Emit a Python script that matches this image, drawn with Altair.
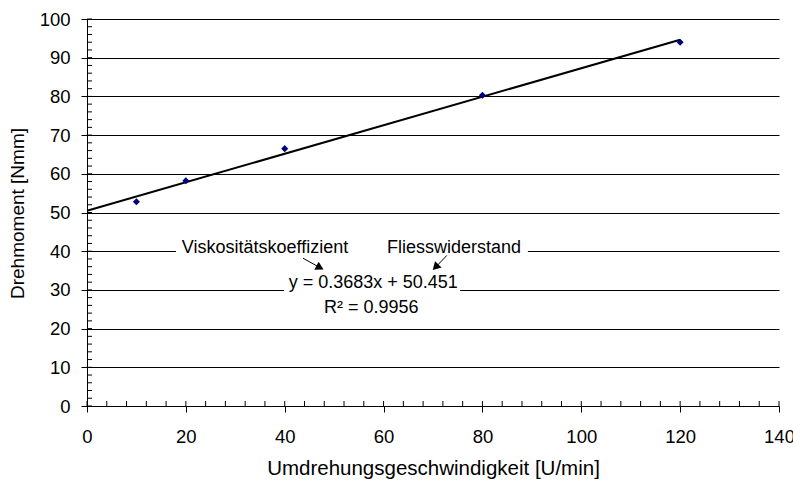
import altair as alt
import pandas as pd

FONT = "Liberation Sans, Arial, sans-serif"

# Measured torque at each rotational speed
speed = [10, 20, 40, 80, 120]
torque = [52.8, 58.2, 66.5, 80.3, 94.0]

# Linear trend: torque = slope * speed + intercept
slope = 0.3683
intercept = 50.451
r_squared = 0.9956
trend_x = [0, 120]

# Axis tick values
x_ticks = [0, 20, 40, 60, 80, 100, 120, 140]
y_ticks = [0, 10, 20, 30, 40, 50, 60, 70, 80, 90, 100]
x_minor = list(range(0, 141, 4))
y_minor = list(range(0, 101, 2))

# Annotation texts and their anchors (data units)
annot_text = [
    "Viskositätskoeffizient",
    "Fliesswiderstand",
    f"y = {slope}x + {intercept}",
    f"R² = {r_squared}",
]
annot_x = [36.0, 74.25, 57.9, 57.5]
annot_y = [39.66, 39.66, 30.49, 24.16]

# White text-box backgrounds (data units)
box_x = [18.0, 39.85]
box_x2 = [89.2, 75.5]
box_y = [37.9, 22.7]
box_y2 = [42.9, 35.7]

# Arrows from the labels to the coefficients
arrow_x = [43.7, 72.8]
arrow_y = [38.2, 38.9]
arrow_x2 = [46.9, 70.7]
arrow_y2 = [35.9, 36.1]
arrow_angle = [118.5, 224]

W, H = 692, 387

xs = alt.Scale(domain=[0, 140], nice=False, zero=False)
ys = alt.Scale(domain=[0, 100], nice=False, zero=False)

x_axis = alt.Axis(
    values=x_ticks, grid=False, domainColor="black", tickColor="black",
    tickSize=6, labelPadding=30, labelBaseline="alphabetic",
    labelFont=FONT, labelFontSize=18.5, labelColor="black",
    labelFlush=False, labelOverlap=False, labelBound=False,
    title="Umdrehungsgeschwindigkeit [U/min]", titleFont=FONT,
    titleFontSize=20.5, titleFontWeight="normal", titleColor="black",
    titleX=346, titleY=68, titleAlign="center", titleBaseline="alphabetic",
)
y_axis = alt.Axis(
    values=y_ticks, grid=True, gridColor="black", gridWidth=1,
    domainColor="black", tickColor="black", tickSize=6, labelPadding=11,
    labelFont=FONT, labelFontSize=18.5, labelColor="black",
    labelFlush=False, labelOverlap=False, labelBound=False,
    title="Drehmoment [Nmm]", titleFont=FONT, titleFontSize=19,
    titleFontWeight="normal", titleColor="black",
    titleX=-70, titleY=194, titleAngle=270, titleAlign="center",
    titleBaseline="middle",
)


def X(field):
    return alt.X(field, type="quantitative", scale=xs, axis=x_axis)


def Y(field):
    return alt.Y(field, type="quantitative", scale=ys, axis=y_axis)


points_df = pd.DataFrame({"x": speed, "y": torque})
trend_df = pd.DataFrame({"x": trend_x})
annot_df = pd.DataFrame({"x": annot_x, "y": annot_y, "text": annot_text})
box_df = pd.DataFrame({"x": box_x, "x2": box_x2, "y": box_y, "y2": box_y2})
arrow_df = pd.DataFrame({"x": arrow_x, "y": arrow_y, "x2": arrow_x2,
                         "y2": arrow_y2, "angle": arrow_angle})
xminor_df = pd.DataFrame({"x": x_minor})
yminor_df = pd.DataFrame({"y": y_minor})

points = alt.Chart(points_df).mark_point(
    shape="diamond", filled=True, color="#000080", size=50, opacity=1
).encode(x=X("x"), y=Y("y"))

trend = alt.Chart(trend_df).transform_calculate(
    y=f"{slope} * datum.x + {intercept}"
).mark_line(color="black", strokeWidth=2).encode(x=X("x"), y=Y("y"))

boxes = alt.Chart(box_df).mark_rect(color="white").encode(
    x=X("x"), x2="x2", y=Y("y"), y2="y2"
)

arrow_lines = alt.Chart(arrow_df).mark_rule(color="black", strokeWidth=1).encode(
    x=X("x"), y=Y("y"), x2="x2", y2="y2"
)
arrow_heads = alt.Chart(arrow_df).mark_point(
    shape="triangle", filled=True, color="black", size=85, opacity=1
).encode(x=X("x2"), y=Y("y2"), angle=alt.Angle("angle:Q", scale=None))

labels = alt.Chart(annot_df).mark_text(
    font=FONT, fontSize=18, color="black", align="center", baseline="alphabetic"
).encode(x=X("x"), y=Y("y"), text="text:N")

x_minor_ticks = alt.Chart(xminor_df).mark_rule(color="black", strokeWidth=1).encode(
    x=X("x"), y=alt.value(H - 5), y2=alt.value(H)
)
y_minor_ticks = alt.Chart(yminor_df).mark_rule(color="black", strokeWidth=1).encode(
    y=Y("y"), x=alt.value(0), x2=alt.value(5)
)

chart = alt.layer(
    boxes, trend, points, arrow_lines, arrow_heads, labels,
    x_minor_ticks, y_minor_ticks,
).properties(
    width=W, height=H,
    padding={"left": 87, "top": 19, "right": 14, "bottom": 75},
    autosize="none",
    background="white",
).configure_view(strokeWidth=0)

chart.save("out.html", embed_options={"renderer": "svg", "actions": False})
